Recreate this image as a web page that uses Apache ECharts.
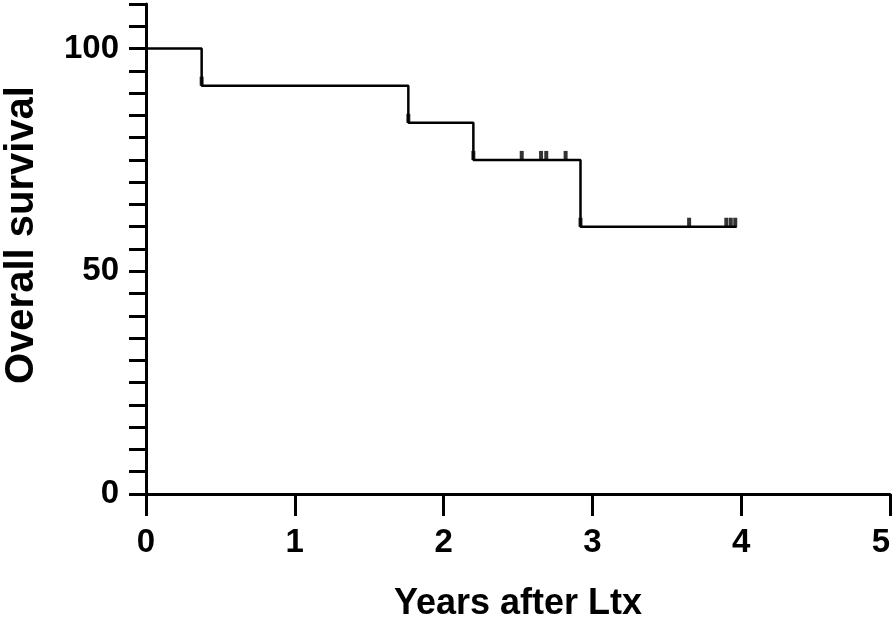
<!DOCTYPE html>
<html>
<head>
<meta charset="utf-8">
<script src="https://cdn.jsdelivr.net/npm/echarts@6/dist/echarts.min.js"></script>
<style>
html, body { margin: 0; padding: 0; background: #fff; }
#chart { width: 896px; height: 618px; }
</style>
</head>
<body>
<div id="chart"></div>
<script>
// survival steps (years, %)
var stepYears = [0, 0.374, 1.763, 2.20, 2.92, 3.97];
var stepSurvival = [100, 91.67, 83.33, 75, 60, 60];
// censored ticks
var censorYears = [0.374, 1.763, 2.20, 2.525, 2.655, 2.69, 2.82, 2.92, 3.65, 3.90, 3.93, 3.96];
var censorSurvival = [91.67, 83.33, 75, 75, 75, 75, 75, 60, 60, 60, 60, 60];
var yLabels = [0, 50, 100];

var steps = stepYears.map(function (x, i) { return [x, stepSurvival[i]]; });
var censors = censorYears.map(function (x, i) { return [x, censorSurvival[i]]; });

var font = 'Liberation Sans, Arial, sans-serif';
var chart = echarts.init(document.getElementById('chart'));
chart.setOption({
    backgroundColor: '#fff',
    animation: false,
    grid: { left: 146, right: 6, top: 4, bottom: 124, containLabel: false, outerBoundsMode: 'none' },
    xAxis: {
        type: 'value',
        min: 0, max: 5, interval: 1,
        name: 'Years after Ltx',
        nameLocation: 'middle',
        nameGap: 92,
        nameTextStyle: { fontFamily: font, fontWeight: 'bold', fontSize: 36, color: '#000' },
        axisLine: { lineStyle: { color: '#000', width: 3 } },
        axisTick: { length: 22, lineStyle: { color: '#000', width: 3 } },
        axisLabel: {
            fontFamily: font, fontWeight: 'bold', fontSize: 33, color: '#000', margin: 32,
            alignMaxLabel: 'right'
        },
        splitLine: { show: false }
    },
    yAxis: {
        type: 'value',
        min: 0, max: 110, interval: 5,
        name: 'Overall survival',
        nameLocation: 'middle',
        nameGap: 104,
        nameTextStyle: { fontFamily: font, fontWeight: 'bold', fontSize: 40, color: '#000', padding: [0, 0, 0, 28] },
        axisLine: { show: true, lineStyle: { color: '#000', width: 3 } },
        axisTick: { show: true, length: 17, lineStyle: { color: '#000', width: 3 } },
        axisLabel: {
            fontFamily: font, fontWeight: 'bold', fontSize: 33, color: '#000', margin: 27,
            formatter: function (v) { return yLabels.indexOf(v) >= 0 ? String(v) : ''; }
        },
        splitLine: { show: false }
    },
    series: [
        {
            type: 'line',
            step: 'end',
            data: steps,
            symbol: 'none',
            lineStyle: { color: '#000', width: 2.5 }
        },
        {
            type: 'scatter',
            data: censors,
            symbol: 'rect',
            symbolSize: [4, 9],
            symbolOffset: [0, -4.5],
            itemStyle: { color: '#000' }
        }
    ]
});
</script>
</body>
</html>
